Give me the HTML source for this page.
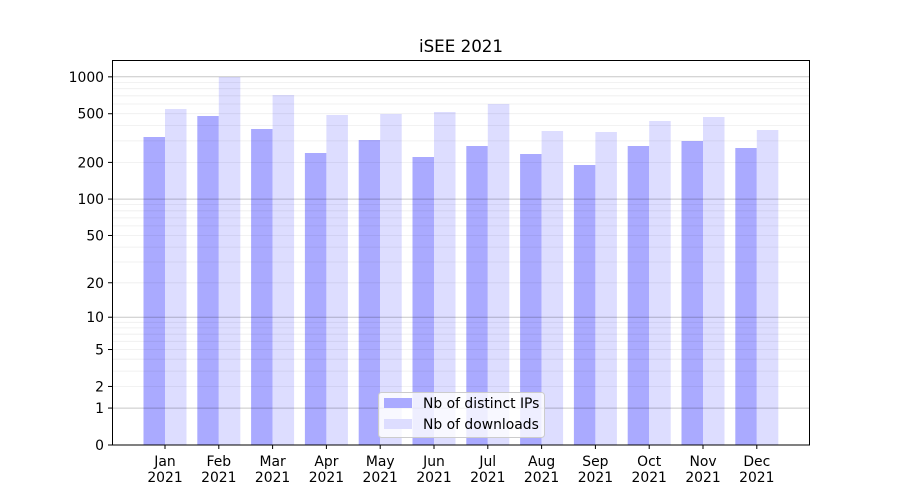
<!DOCTYPE html>
<html><head><meta charset="utf-8"><style>body{margin:0;background:#fff}svg{display:block}text{font-family:"DejaVu Sans","Liberation Sans",sans-serif;font-size:13.9px;fill:#000}</style></head>
<body>
<svg id="s" width="900" height="500" xmlns="http://www.w3.org/2000/svg">
<rect width="900" height="500" fill="#fff"/>
<g id="bars"></g>
<g id="grid"></g>
<rect x="112.5" y="60.5" width="697" height="384.5" fill="none" stroke="#000" stroke-width="1"/>
<text x="461" y="52" text-anchor="middle" style="font-size:16.7px">iSEE 2021</text>
<g id="yt" text-anchor="end"></g>
<g id="xt" text-anchor="middle"></g>
<rect x="378.5" y="392.5" width="166" height="45" rx="3" fill="#fff" fill-opacity="0.8" stroke="#ccc"/>
<rect x="384" y="398" width="28" height="10" fill="#aaaaff"/>
<rect x="384" y="419" width="28" height="10" fill="#ddddff"/>
<text x="423" y="408">Nb of distinct IPs</text>
<text x="423" y="429">Nb of downloads</text>
</svg>
<script>
const Y=v=>445-122.7*Math.log10(1+v);
let g='';
for(let k=0;k<4;k++)for(let m=1;m<10;m++){const v=m*Math.pow(10,k);if(v>1000)break;const y=Y(v).toFixed(1);
g+=`<line x1="112" x2="810" y1="${y}" y2="${y}" stroke="#000" stroke-opacity="${m==1?0.22:0.07}" stroke-width="${m==1?1:0.8}"/>`;}
document.getElementById('grid').innerHTML=g;
const tops=[[137,109],[116,77],[129,95],[153,115],[140,114],[157,112],[146,104],[154,131],[165,132],[146,121],[141,117],[148,130]];
const mon=['Jan','Feb','Mar','Apr','May','Jun','Jul','Aug','Sep','Oct','Nov','Dec'];
let b='',xt='';
tops.forEach((t,i)=>{const c=165+i*53.8;
b+=`<rect x="${c-21.5}" y="${t[0]}" width="21.5" height="${445-t[0]}" fill="#aaaaff"/><rect x="${c}" y="${t[1]}" width="21.5" height="${445-t[1]}" fill="#ddddff"/>`;
xt+=`<line x1="${c}" x2="${c}" y1="445" y2="449" stroke="#000"/><text x="${c}" y="466">${mon[i]}</text><text x="${c}" y="482">2021</text>`;});
document.getElementById('bars').innerHTML=b;
document.getElementById('xt').innerHTML=xt;
let yt='';[0,1,2,5,10,20,50,100,200,500,1000].forEach(v=>{const y=Y(v);
yt+=`<line x1="108" x2="112" y1="${y}" y2="${y}" stroke="#000"/><text x="104" y="${y+5}">${v}</text>`;});
document.getElementById('yt').innerHTML=yt;
</script>
</body></html>
